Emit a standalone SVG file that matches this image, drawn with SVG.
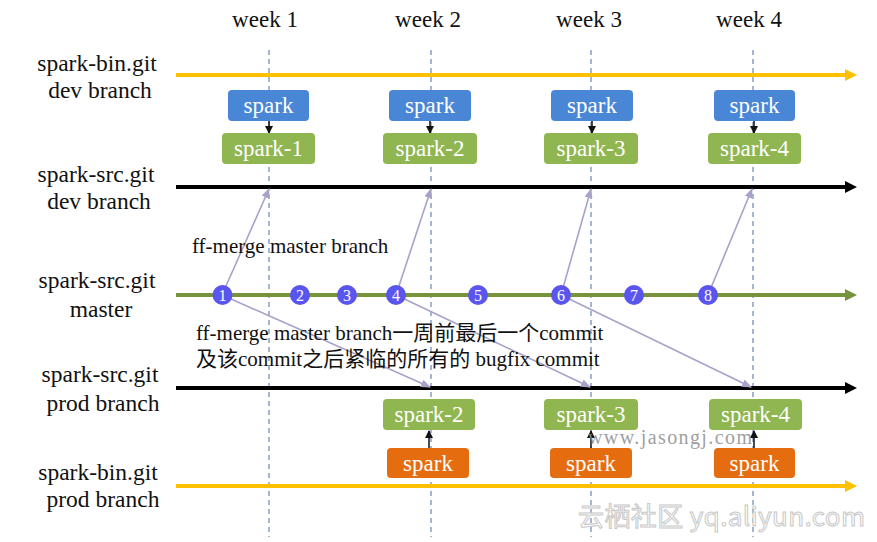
<svg xmlns="http://www.w3.org/2000/svg" width="877" height="542" viewBox="0 0 877 542">
<style>
  .lbl { font-family: "Liberation Serif", "Noto Sans CJK SC", serif; font-size: 23.5px; fill: #111; text-anchor: middle; }
  .wk { font-family: "Liberation Serif", serif; font-size: 23px; fill: #111; text-anchor: middle; }
  .bt { font-family: "Liberation Serif", serif; font-size: 23px; fill: #fff; text-anchor: middle; }
  .num { font-family: "Liberation Serif", serif; font-size: 16px; fill: #fff; text-anchor: middle; }
  .note { font-family: "Liberation Serif", "Noto Sans CJK SC", serif; font-size: 21px; fill: #111; }
  .dash { stroke: #6a84b4; stroke-width: 1.2; stroke-dasharray: 5 4; fill: none; }
  .blue { fill: #4a86d6; }
  .green { fill: #8fb650; }
  .orange { fill: #e66c10; }
  .commit { fill: #5a55ee; }
  .lav { stroke: #a8a2c9; stroke-width: 1.6; fill: none; marker-end: url(#lavhead); }
  .small { stroke: #111; stroke-width: 1.5; fill: none; marker-end: url(#blackhead); }
</style>
<defs>
  <marker id="lavhead" markerWidth="10" markerHeight="8" refX="9" refY="4" orient="auto" markerUnits="userSpaceOnUse">
    <path d="M0,0 L10,4 L0,8 Z" fill="#a8a2c9"/>
  </marker>
  <marker id="blackhead" markerWidth="8" markerHeight="8" refX="7" refY="4" orient="auto" markerUnits="userSpaceOnUse">
    <path d="M0,0 L8,4 L0,8 Z" fill="#111"/>
  </marker>
</defs>
<rect width="877" height="542" fill="#fff"/>

<g id="weeks">
  <text class="wk" x="265" y="27">week 1</text>
  <text class="wk" x="428" y="27">week 2</text>
  <text class="wk" x="589" y="27">week 3</text>
  <text class="wk" x="749" y="27">week 4</text>
  <line class="dash" x1="269" y1="50" x2="269" y2="537"/>
  <line class="dash" x1="431" y1="50" x2="431" y2="537"/>
  <line class="dash" x1="591" y1="50" x2="591" y2="537"/>
  <line class="dash" x1="753" y1="50" x2="753" y2="537"/>
</g>

<g id="labels">
  <text class="lbl" x="97" y="71">spark-bin.git</text>
  <text class="lbl" x="100" y="98">dev branch</text>
  <text class="lbl" x="96" y="182">spark-src.git</text>
  <text class="lbl" x="99" y="209">dev branch</text>
  <text class="lbl" x="97" y="288">spark-src.git</text>
  <text class="lbl" x="101" y="317">master</text>
  <text class="lbl" x="100" y="382">spark-src.git</text>
  <text class="lbl" x="103" y="411">prod branch</text>
  <text class="lbl" x="98" y="480">spark-bin.git</text>
  <text class="lbl" x="103" y="507">prod branch</text>
</g>

<g id="connectors">
  <line x1="176" y1="75" x2="847" y2="75" stroke="#ffc000" stroke-width="4"/>
  <polygon points="845,69 857,75 845,81" fill="#ffc000"/>
  <line x1="176" y1="187" x2="847" y2="187" stroke="#000" stroke-width="4"/>
  <polygon points="845,181 857,187 845,193" fill="#000"/>
  <line x1="176" y1="295" x2="847" y2="295" stroke="#77933c" stroke-width="4"/>
  <polygon points="845,289 857,295 845,301" fill="#77933c"/>
  <line x1="176" y1="388" x2="847" y2="388" stroke="#000" stroke-width="4"/>
  <polygon points="845,382 857,388 845,394" fill="#000"/>
  <line x1="176" y1="486" x2="847" y2="486" stroke="#ffc000" stroke-width="4"/>
  <polygon points="845,480 857,486 845,492" fill="#ffc000"/>

  <line class="lav" x1="222" y1="295" x2="269" y2="189"/>
  <line class="lav" x1="396" y1="295" x2="431" y2="189"/>
  <line class="lav" x1="561" y1="295" x2="591" y2="189"/>
  <line class="lav" x1="708" y1="295" x2="752" y2="189"/>
  <line class="lav" x1="222" y1="295" x2="430" y2="387"/>
  <line class="lav" x1="396" y1="295" x2="590" y2="387"/>
  <line class="lav" x1="561" y1="295" x2="751" y2="387"/>

  <line class="small" x1="269" y1="121" x2="269" y2="133"/>
  <line class="small" x1="430" y1="121" x2="430" y2="133"/>
  <line class="small" x1="592" y1="121" x2="592" y2="133"/>
  <line class="small" x1="754" y1="121" x2="754" y2="133"/>
  <line class="small" x1="429" y1="448" x2="429" y2="431"/>
  <line class="small" x1="591" y1="448" x2="591" y2="431"/>
  <line class="small" x1="754" y1="448" x2="754" y2="431"/>
</g>

<g id="bin-dev-1"><rect class="blue" x="228" y="90" width="81" height="31" rx="4"/><text class="bt" x="268.5" y="113">spark</text></g>
<g id="bin-dev-2"><rect class="blue" x="389" y="90" width="82" height="31" rx="4"/><text class="bt" x="430" y="113">spark</text></g>
<g id="bin-dev-3"><rect class="blue" x="551" y="90" width="82" height="31" rx="4"/><text class="bt" x="592" y="113">spark</text></g>
<g id="bin-dev-4"><rect class="blue" x="714" y="90" width="81" height="31" rx="4"/><text class="bt" x="754.5" y="113">spark</text></g>

<g id="src-dev-1"><rect class="green" x="222" y="133" width="93" height="31" rx="4"/><text class="bt" x="268.5" y="156">spark-1</text></g>
<g id="src-dev-2"><rect class="green" x="383" y="133" width="94" height="31" rx="4"/><text class="bt" x="430" y="156">spark-2</text></g>
<g id="src-dev-3"><rect class="green" x="544" y="133" width="94" height="31" rx="4"/><text class="bt" x="591" y="156">spark-3</text></g>
<g id="src-dev-4"><rect class="green" x="708" y="133" width="93" height="31" rx="4"/><text class="bt" x="754.5" y="156">spark-4</text></g>

<g id="src-prod-2"><rect class="green" x="383" y="399" width="92" height="31" rx="4"/><text class="bt" x="429" y="422">spark-2</text></g>
<g id="src-prod-3"><rect class="green" x="544" y="399" width="94" height="31" rx="4"/><text class="bt" x="591" y="422">spark-3</text></g>
<g id="src-prod-4"><rect class="green" x="709" y="399" width="93" height="31" rx="4"/><text class="bt" x="755.5" y="422">spark-4</text></g>

<g id="bin-prod-2"><rect class="orange" x="387" y="448" width="82" height="30" rx="4"/><text class="bt" x="428" y="471">spark</text></g>
<g id="bin-prod-3"><rect class="orange" x="550" y="448" width="82" height="30" rx="4"/><text class="bt" x="591" y="471">spark</text></g>
<g id="bin-prod-4"><rect class="orange" x="714" y="448" width="81" height="30" rx="4"/><text class="bt" x="754.5" y="471">spark</text></g>

<g id="c1"><circle class="commit" cx="222.5" cy="295" r="10"/><text class="num" x="222.5" y="300.5">1</text></g>
<g id="c2"><circle class="commit" cx="300" cy="295" r="10"/><text class="num" x="300" y="300.5">2</text></g>
<g id="c3"><circle class="commit" cx="347" cy="295" r="10"/><text class="num" x="347" y="300.5">3</text></g>
<g id="c4"><circle class="commit" cx="396" cy="295" r="10"/><text class="num" x="396" y="300.5">4</text></g>
<g id="c5"><circle class="commit" cx="478" cy="295" r="10"/><text class="num" x="478" y="300.5">5</text></g>
<g id="c6"><circle class="commit" cx="561" cy="295" r="10"/><text class="num" x="561" y="300.5">6</text></g>
<g id="c7"><circle class="commit" cx="634" cy="295" r="10"/><text class="num" x="634" y="300.5">7</text></g>
<g id="c8"><circle class="commit" cx="708" cy="295" r="10"/><text class="num" x="708" y="300.5">8</text></g>

<g id="notes">
  <text class="note" x="192" y="253">ff-merge master branch</text>
  <text class="note" x="196" y="340">ff-merge master branch一周前最后一个commit</text>
  <text class="note" x="196" y="366">及该commit之后紧临的所有的 bugfix commit</text>
</g>

<g id="watermarks">
  <text x="588" y="444" font-family="Liberation Serif, serif" font-size="20" fill="#8c8c8c" fill-opacity="0.85" textLength="164">www.jasongj.com</text>
  <text x="578" y="526" font-family="Noto Sans CJK SC, Noto Sans, sans-serif" font-size="26" fill="#ffffff" stroke="#c8c8c8" stroke-width="1" textLength="287">云栖社区 yq.aliyun.com</text>
</g>
</svg>
